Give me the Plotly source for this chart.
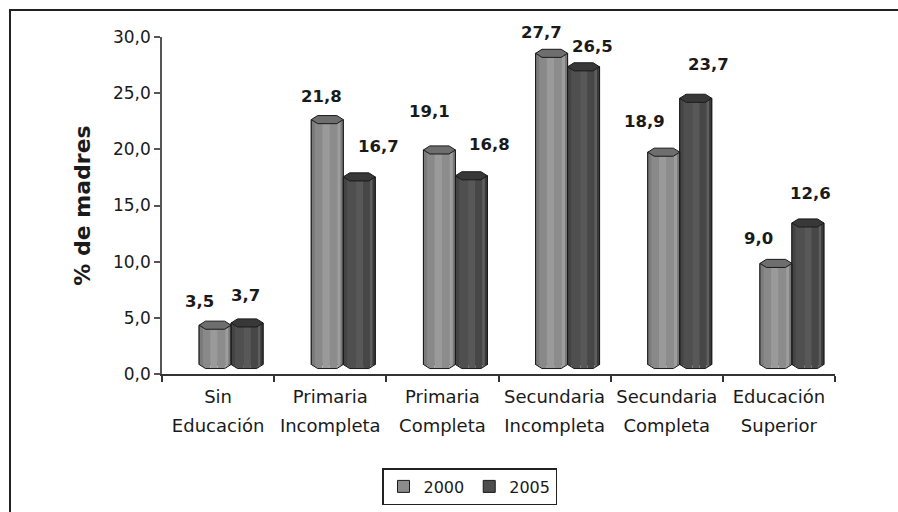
import numpy as np
import plotly.graph_objects as go

# ---- data -----------------------------------------------------------------
CATEGORY_LINE1 = ["Sin", "Primaria", "Primaria", "Secundaria", "Secundaria", "Educación"]
CATEGORY_LINE2 = ["Educación", "Incompleta", "Completa", "Incompleta", "Completa", "Superior"]
YEARS = ["2000", "2005"]
VALUES_2000 = [3.5, 21.8, 19.1, 27.7, 18.9, 9.0]
VALUES_2005 = [3.7, 16.7, 16.8, 26.5, 23.7, 12.6]
Y_TICKS = [0, 5, 10, 15, 20, 25, 30]
Y_TITLE = "% de madres"

# ---- page geometry ----------------------------------------------------------
W_PX, H_PX = 898, 512
M_L, M_R, M_T, M_B = 162, 63, 37, 138
PLOT_W = W_PX - M_L - M_R
PLOT_H = H_PX - M_T - M_B


def xp(px):
    return (px - M_L) / PLOT_W


def yp(py):
    return (H_PX - M_B - py) / PLOT_H


FONT = "DejaVu Sans"
INK = "#1a1a1a"
CLEAR = "rgba(0,0,0,0)"

# 3-D look: columns sit on a floor pushed back (right and up) from the axes
BAR_W = 0.285                  # column width, category units
CAP = 0.36                     # half height of the column cap, value units
DEPTH_X = 13 / (PLOT_W / 6)    # category units
DEPTH_Y = 9.5 / (PLOT_H / 30)  # value units

SERIES_STYLE = {
    "2000": dict(offset=-BAR_W, body="#8c8c8c", cap="#6e6e6e",
                 stripes=[(0.00, 0.12, "#7b7b7b"), (0.12, 0.35, "#898989"),
                          (0.35, 0.58, "#9a9a9a"), (0.58, 0.82, "#8c8c8c"),
                          (0.82, 0.92, "#9d9d9d"), (0.92, 1.00, "#787878")]),
    "2005": dict(offset=0.0, body="#4d4d4d", cap="#383838",
                 stripes=[(0.00, 0.12, "#444444"), (0.12, 0.40, "#4f4f4f"),
                          (0.40, 0.62, "#585858"), (0.62, 0.84, "#474747"),
                          (0.84, 0.92, "#5f5f5f"), (0.92, 1.00, "#393939")]),
}

# pixel nudges of each value label (x right, y up) relative to its column top
LABEL_NUDGE = {
    "2000": [(-16, 33), (-6, 33), (-10, 48), (-10, 30), (-19, 40), (-17, 34)],
    "2005": [(-2, 37), (19, 40), (18, 41), (9, 30), (13, 43), (3, 39)],
}

xs = list(range(len(CATEGORY_LINE1)))
series_values = {"2000": VALUES_2000, "2005": VALUES_2005}


def bottom_profile(left, right):
    knots = [left, left + 0.2 * BAR_W, right - 0.2 * BAR_W, right]
    return knots, [DEPTH_Y, DEPTH_Y - CAP, DEPTH_Y - CAP, DEPTH_Y]


fig = go.Figure()
annotations = []

for year in YEARS:
    st = SERIES_STYLE[year]
    vals = series_values[year]
    off = st["offset"] + DEPTH_X

    # main column mark
    fig.add_trace(go.Bar(
        x=xs, y=vals, base=DEPTH_Y, name=year, offset=off, width=BAR_W,
        marker=dict(color=st["body"], line=dict(color=INK, width=1)),
        hoverinfo="skip",
    ))

    # vertical shading stripes, following the rounded foot of each column
    for a, b, col in st["stripes"]:
        px_, py_ = [], []
        for x, v in zip(xs, vals):
            left = x + off
            right = left + BAR_W
            top = v + DEPTH_Y
            knots, kys = bottom_profile(left, right)
            xa, xb = left + a * BAR_W, left + b * BAR_W
            pts = [xa] + [k for k in knots if xa < k < xb] + [xb]
            for q in pts:
                px_.append(q)
                py_.append(float(np.interp(q, knots, kys)))
            px_ += [xb, xa, xa, None]
            py_ += [top, top, float(np.interp(xa, knots, kys)), None]
        fig.add_trace(go.Scatter(
            x=px_, y=py_, mode="lines", fill="toself", fillcolor=col,
            line=dict(width=0, color=col), showlegend=False, hoverinfo="skip",
        ))

# outlines and caps go on the companion category axis (same range), so
# they are layered above every column body
for year in YEARS:
    st = SERIES_STYLE[year]
    vals = series_values[year]
    off = st["offset"] + DEPTH_X

    # column outline: sides and foot
    ox, oy = [], []
    for x, v in zip(xs, vals):
        left = x + off
        right = left + BAR_W
        top = v + DEPTH_Y
        knots, kys = bottom_profile(left, right)
        ox += [left] + knots + [right, None]
        oy += [top] + kys + [top, None]
    fig.add_trace(go.Scatter(
        x=ox, y=oy, mode="lines", line=dict(color=INK, width=1),
        xaxis="x2", showlegend=False, hoverinfo="skip",
    ))

    # column caps
    cx, cy = [], []
    for x, v in zip(xs, vals):
        left = x + off
        right = left + BAR_W
        top = v + DEPTH_Y
        cx += [left, left + 0.2 * BAR_W, right - 0.2 * BAR_W, right,
               right - 0.2 * BAR_W, left + 0.2 * BAR_W, left, None]
        cy += [top, top + CAP, top + CAP, top, top - CAP, top - CAP, top, None]
    fig.add_trace(go.Scatter(
        x=cx, y=cy, mode="lines", fill="toself", fillcolor=st["cap"],
        line=dict(color=INK, width=1), xaxis="x2",
        showlegend=False, hoverinfo="skip",
    ))

    # value labels
    for x, v, (dx, dy) in zip(xs, vals, LABEL_NUDGE[year]):
        annotations.append(dict(
            text=f"{v:.1f}".replace(".", ","),
            x=x + off + BAR_W / 2, xref="x", y=v, yref="y",
            xshift=dx, yshift=dy, showarrow=False,
            font=dict(family=FONT, size=16.5, color=INK, weight="bold"),
        ))

# frame around the whole chart (left and top edges)
frame = dict(
    type="path", xref="paper", yref="paper",
    path=(f"M {xp(10)},{yp(H_PX)} L {xp(10)},{yp(10)} L {xp(W_PX)},{yp(10)}"),
    line=dict(color="#222222", width=2),
)

x_range = [-0.5, len(xs) - 0.5]
cat_font = dict(family=FONT, size=18, color=INK)

fig.update_layout(
    width=W_PX, height=H_PX,
    margin=dict(l=M_L, r=M_R, t=M_T, b=M_B, pad=0, autoexpand=False),
    paper_bgcolor="white", plot_bgcolor="white",
    barmode="overlay",
    separators=", ",
    font=dict(family=FONT, color=INK),
    showlegend=True,
    legend=dict(
        orientation="h", xref="container", yref="container",
        x=382 / W_PX, xanchor="left", y=1 - 468 / H_PX, yanchor="top",
        bordercolor="#222222", borderwidth=1.5, bgcolor="white",
        font=dict(family=FONT, size=16, color=INK),
    ),
    # category axis: line, boundary tick marks, first line of the names
    xaxis=dict(
        range=x_range, tickmode="array", tickvals=xs, ticktext=CATEGORY_LINE1,
        ticks="outside", ticklen=6, tickcolor=CLEAR,
        minor=dict(tickmode="array",
                   tickvals=[i - 0.5 for i in range(len(xs) + 1)],
                   ticks="outside", ticklen=6, tickcolor="#333333", tickwidth=1.5),
        showline=True, linecolor="#333333", linewidth=1.5,
        showgrid=False, zeroline=False, tickfont=cat_font,
    ),
    # second line of the category names
    xaxis2=dict(
        overlaying="x", anchor="y", side="bottom", range=x_range,
        tickmode="array", tickvals=xs, ticktext=CATEGORY_LINE2,
        ticks="outside", ticklen=35, tickcolor=CLEAR, showline=False,
        showgrid=False, zeroline=False, tickfont=cat_font,
    ),
    yaxis=dict(
        range=[0, 30], tickmode="array", tickvals=Y_TICKS, tickformat=".1f",
        ticks="outside", ticklen=6, tickcolor="#555555", tickwidth=1.5,
        showline=True, linecolor="#555555", linewidth=1.5,
        showgrid=False, zeroline=False,
        tickfont=dict(family=FONT, size=17, color=INK),
        title=dict(text=Y_TITLE, standoff=16,
                   font=dict(family=FONT, size=22, color=INK, weight="bold")),
    ),
    annotations=annotations,
    shapes=[frame],
)

fig.write_html("out.html")
